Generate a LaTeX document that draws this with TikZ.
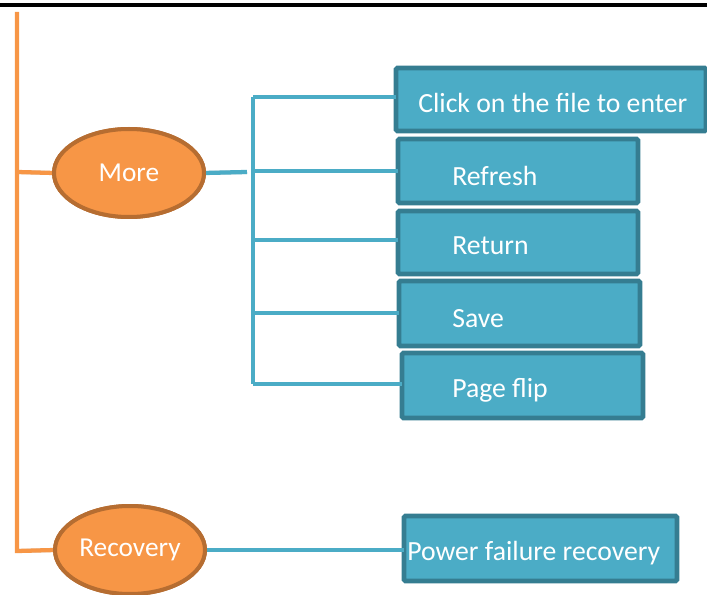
\documentclass[tikz,border=0pt]{standalone}
\usepackage{fontspec}
\setmainfont{Carlito}
\definecolor{boxfill}{HTML}{4BACC6}
\definecolor{boxedge}{HTML}{357D91}
\definecolor{orfill}{HTML}{F79646}
\definecolor{oredge}{HTML}{B66D31}
\definecolor{shadowc}{HTML}{B8B8B8}
\newlength{\pxu}
\setlength{\pxu}{0.75pt}
\tikzset{
  leaf/.style={draw=boxedge, line width=3.5pt, fill=boxfill, rounded corners=1pt, inner sep=0pt, outer sep=0pt},
  topic/.style={ellipse, draw=oredge, line width=3pt, fill=orfill, inner sep=0pt, outer sep=0pt, minimum width=150\pxu, minimum height=88\pxu, font=\fontsize{20.5}{24}\selectfont, text=white},
  lbl/.style={font=\fontsize{20.8}{24}\selectfont, text=white, anchor=west, inner sep=0pt},
  bline/.style={draw=boxfill, line width=3.2pt},
  oline/.style={draw=orfill, line width=3.2pt},
  shad/.style={draw=shadowc, line width=3pt, opacity=0.6}
}
\usetikzlibrary{shapes.geometric}
\begin{document}
\begin{tikzpicture}[x=0.75pt, y=-0.75pt]
\useasboundingbox (0,0) rectangle (707,595);
\draw[black, line width=2.4pt] (0,5) -- (707,5);

% boxes
\node[leaf, minimum width=310\pxu, minimum height=63\pxu, anchor=north west] (b1) at (396,68) {};
\node[leaf, minimum width=240\pxu, minimum height=64\pxu, anchor=north west] (b2) at (398,139) {};
\node[leaf, minimum width=240\pxu, minimum height=63\pxu, anchor=north west] (b3) at (398,211) {};
\node[leaf, minimum width=241\pxu, minimum height=65\pxu, anchor=north west] (b4) at (399,281) {};
\node[leaf, minimum width=241\pxu, minimum height=65\pxu, anchor=north west] (b5) at (402,353) {};
\node[leaf, minimum width=273\pxu, minimum height=65\pxu, anchor=north west] (b6) at (404,516) {};

\node[lbl] (t1) at (418,103) {Click on the file to enter};
\node[lbl] (t2) at (452,176) {Refresh};
\node[lbl] (t3) at (452,246) {Return};
\node[lbl] (t4) at (452,319) {Save};
\node[lbl] (t5) at (452,390) {Page flip};
\node[lbl] (t6) at (407,553) {Power failure recovery};

% ellipses
\node[topic] (more) at (129,173) {More};
\node[topic] (rec) at (130,550) {Recovery};

% coordinates
\coordinate (otop) at (17,12);
\coordinate (obr) at (17,172);
\coordinate (obot) at (17,551);
\coordinate (mstub) at (247,172);
\coordinate (bus1) at (253,97);
\coordinate (bus2) at (253,171);
\coordinate (bus3) at (253,240);
\coordinate (bus4) at (253,313);
\coordinate (bus5) at (253,384);

% shadows
\begin{scope}[shift={(2,3)}]
\draw[shad] (obr) -- (more.west);
\draw[shad] (obot) -- (rec.west);
\draw[shad] (more.east) -- (mstub);
\draw[shad] (bus1) -- (b1.west |- bus1);
\draw[shad] (bus2) -- (b2.west |- bus2);
\draw[shad] (bus3) -- (b3.west |- bus3);
\draw[shad] (bus4) -- (b4.west |- bus4);
\draw[shad] (bus5) -- (b5.west |- bus5);
\draw[shad] (rec.east) -- (b6.west |- rec.east);
\end{scope}

% orange lines
\draw[oline] (otop) -- (obot) -- (rec.west);
\draw[oline] (obr) -- (more.west);

% blue lines
\draw[bline] (more.east) -- (mstub);
\draw[bline] (bus1) -- (bus5);
\draw[bline] (bus1) -- (b1.west |- bus1);
\draw[bline] (bus2) -- (b2.west |- bus2);
\draw[bline] (bus3) -- (b3.west |- bus3);
\draw[bline] (bus4) -- (b4.west |- bus4);
\draw[bline] (bus5) -- (b5.west |- bus5);
\draw[bline] (rec.east) -- (b6.west |- rec.east);

% redraw nodes above lines
\node[topic] at (129,173) {More};
\node[topic] at (130,550) {Recovery};
\end{tikzpicture}
\end{document}
